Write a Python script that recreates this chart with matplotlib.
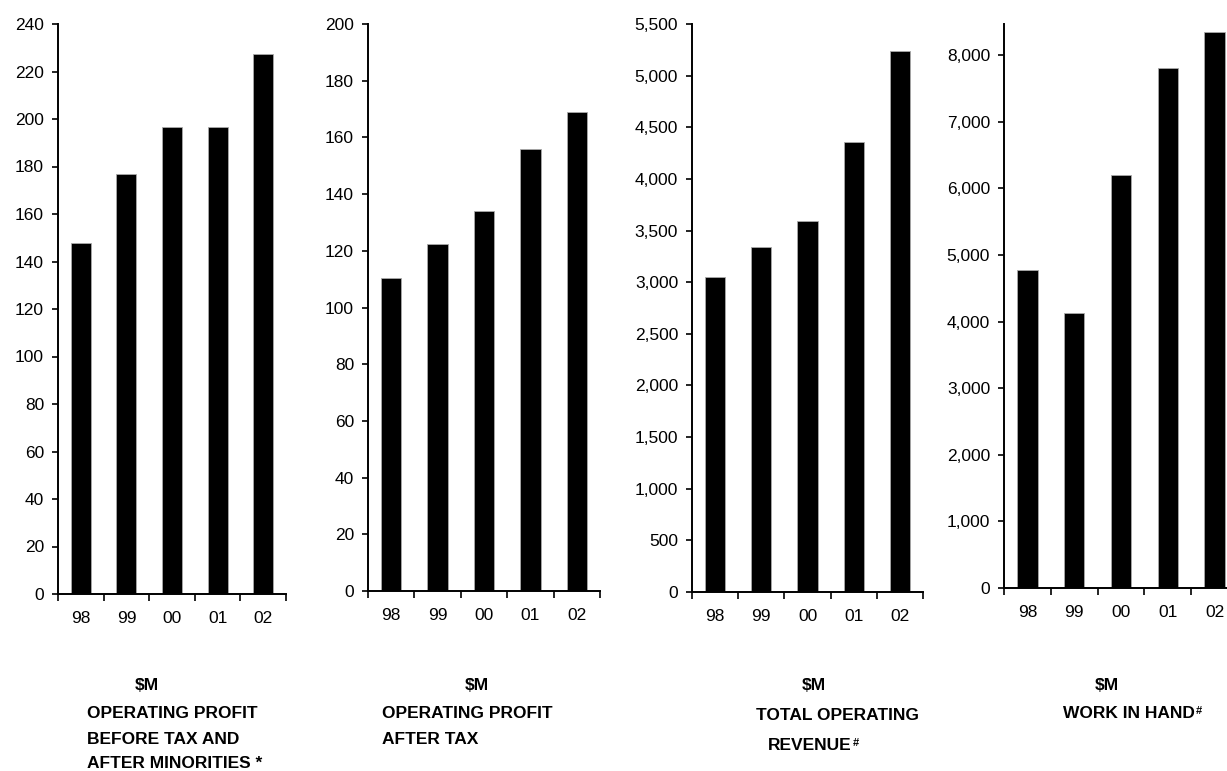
import numpy as np
import matplotlib.pyplot as plt
from matplotlib.ticker import FuncFormatter

years = ['98', '99', '00', '01', '02']

profit_before_tax = [148, 177, 196.5, 196.5, 227.5]
profit_after_tax = [110.5, 122.5, 134, 156, 169]
operating_revenue = [3050, 3340, 3590, 4355, 5235]
work_in_hand = [4770, 4130, 6200, 7810, 8350]

W, H = 1227, 771
fig = plt.figure(figsize=(W / 100, H / 100), dpi=100)

tick_font = 'Liberation Sans'
title_font = ['Liberation Sans Narrow', 'Liberation Sans', 'DejaVu Sans']

def make_ax(x0, x1, top, bottom):
    return fig.add_axes([x0 / W, 1 - bottom / H, (x1 - x0) / W, (bottom - top) / H])

def draw_panel(ax, vals, ymax, ystep, commas):
    x = np.arange(len(years))
    ax.bar(x, vals, width=0.44, color='black', edgecolor='#aaaaaa', linewidth=0.6, zorder=2)
    ax.set_xlim(-0.5, 4.5)
    ax.set_ylim(0, ymax)
    ax.set_yticks(np.arange(0, ymax + 1, ystep))
    if commas:
        ax.yaxis.set_major_formatter(FuncFormatter(lambda v, p: '{:,.0f}'.format(v)))
    ax.set_xticks(np.arange(-0.5, 5, 1))
    ax.set_xticklabels([])
    ax.set_xticks(x, minor=True)
    ax.set_xticklabels(years, minor=True)
    ax.tick_params(axis='x', which='major', direction='out', length=5, width=1.2)
    ax.tick_params(axis='x', which='minor', length=0, pad=12)
    ax.tick_params(axis='y', direction='out', length=4, width=1.2, pad=6)
    for lab in ax.get_xticklabels(minor=True) + ax.get_yticklabels():
        lab.set_fontfamily(tick_font)
        lab.set_fontsize(12.5)
    for s in ['top', 'right']:
        ax.spines[s].set_visible(False)
    for s in ['left', 'bottom']:
        ax.spines[s].set_linewidth(1.4)

ax1 = make_ax(58, 286, 24, 594)
draw_panel(ax1, profit_before_tax, 240, 20, False)
ax2 = make_ax(368, 600, 24, 591)
draw_panel(ax2, profit_after_tax, 200, 20, False)
ax3 = make_ax(692, 923, 24, 592)
draw_panel(ax3, operating_revenue, 5500, 500, True)
ax4 = make_ax(1004, 1238, 24, 588)
draw_panel(ax4, work_in_hand, 8470, 1000, True)
ax4.set_yticks(np.arange(0, 8001, 1000))
for lab in ax4.get_yticklabels():
    lab.set_fontfamily(tick_font)
    lab.set_fontsize(12.5)

def label(x, y, s, sup=False):
    t = fig.text(x / W, 1 - y / H, s, fontsize=12.5, fontweight='bold',
                 family=title_font, ha='left', va='center')
    if sup:
        plt.annotate('#', xy=(1, 1), xycoords=t, xytext=(0.5, 0), textcoords='offset points',
                     fontsize=8, fontweight='bold', family=title_font, ha='left', va='top',
                     annotation_clip=False)
    return t

label(135, 685, '$M')
label(87, 714, 'OPERATING PROFIT')
label(87, 739, 'BEFORE TAX AND')
label(87, 763, 'AFTER MINORITIES *')

label(465, 685, '$M')
label(382, 714, 'OPERATING PROFIT')
label(382, 740, 'AFTER TAX')

label(802, 686, '$M')
label(756, 715, 'TOTAL OPERATING')
label(768, 745, 'REVENUE', sup=True)

label(1095, 685, '$M')
label(1063, 714, 'WORK IN HAND', sup=True)

fig.savefig('out.png', dpi=100)
